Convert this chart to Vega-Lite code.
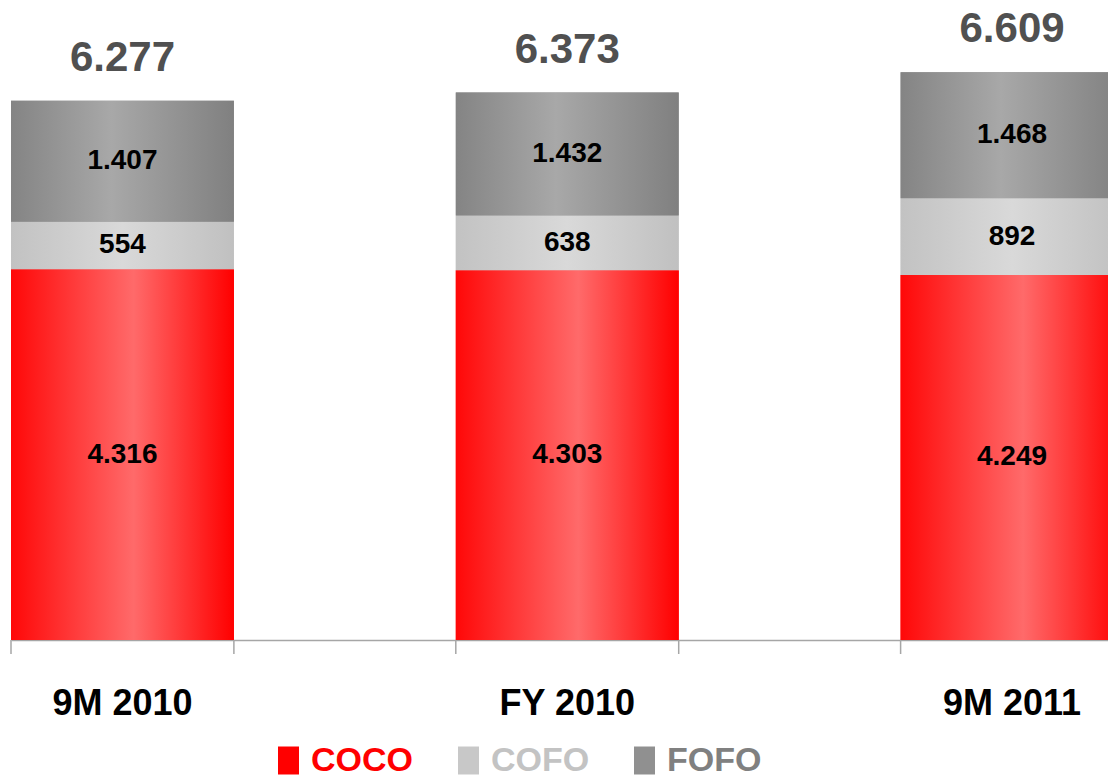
{
  "$schema": "https://vega.github.io/schema/vega-lite/v6.json",
  "width": 1108,
  "height": 640,
  "autosize": {"type": "none"},
  "padding": {"left": 0, "top": 0, "right": 0, "bottom": 143},
  "config": {
    "view": {"stroke": null},
    "font": "Liberation Sans",
    "locale": {"number": {"decimal": ",", "thousands": ".", "grouping": [3], "currency": ["", ""]}}
  },
  "data": {
    "values": [
      {"period": "9M 2010", "series": "COCO", "value": 4316},
      {"period": "9M 2010", "series": "COFO", "value": 554},
      {"period": "9M 2010", "series": "FOFO", "value": 1407},
      {"period": "FY 2010", "series": "COCO", "value": 4303},
      {"period": "FY 2010", "series": "COFO", "value": 638},
      {"period": "FY 2010", "series": "FOFO", "value": 1432},
      {"period": "9M 2011", "series": "COCO", "value": 4249},
      {"period": "9M 2011", "series": "COFO", "value": 892},
      {"period": "9M 2011", "series": "FOFO", "value": 1468}
    ]
  },
  "layer": [
    {
      "mark": {"type": "bar"},
      "encoding": {
        "x": {
          "field": "period", "type": "nominal", "sort": null,
          "scale": {"range": [11, 1123.5], "paddingInner": 0.4989, "paddingOuter": 0},
          "axis": {
            "title": null, "ticks": false, "tickSize": 0, "labelAngle": 0,
            "labelFont": "Liberation Sans",
            "labelFontSize": 36, "labelFontWeight": "bold", "labelColor": "#000000",
            "labelBaseline": "top", "labelPadding": 46,
            "domainColor": "#a6a6a6", "domainWidth": 1.5
          }
        },
        "y": {
          "field": "value", "type": "quantitative", "stack": "zero",
          "scale": {"domain": [0, 7450]}, "axis": null
        },
        "order": {"field": "series", "type": "ordinal", "sort": "ascending"},
        "color": {
          "field": "series", "type": "nominal",
          "scale": {"domain": ["COCO", "COFO", "FOFO"], "range": ["#ff0000", "#c8c8c8", "#909090"]},
          "legend": {
            "title": null, "orient": "none", "direction": "horizontal",
            "legendX": 271.5, "legendY": 743.5, "padding": 0,
            "symbolType": "M-0.75,-1H0.75V1H-0.75Z", "symbolSize": 784, "symbolStrokeWidth": 0,
            "labelFont": "Liberation Sans",
            "labelFontSize": 34, "labelFontWeight": "bold", "labelOffset": 5.5,
            "columnPadding": 38, "labelLimit": 300,
            "encode": {
              "labels": {"update": {"fill": {"signal": "datum.value === 'COCO' ? '#ff0000' : datum.value === 'COFO' ? '#c3c3c3' : '#808080'"}}},
              "symbols": {"update": {"fill": {"signal": "datum.value === 'COCO' ? {gradient: 'linear', x1: 0, y1: 0, x2: 1, y2: 0, stops: [{offset: 0, color: '#ff0808'}, {offset: 0.55, color: '#ff6a6a'}, {offset: 1, color: '#ff0000'}]} : datum.value === 'COFO' ? {gradient: 'linear', x1: 0, y1: 0, x2: 1, y2: 0, stops: [{offset: 0, color: '#c2c2c2'}, {offset: 0.5, color: '#d9d9d9'}, {offset: 1, color: '#c0c0c0'}]} : {gradient: 'linear', x1: 0, y1: 0, x2: 1, y2: 0, stops: [{offset: 0, color: '#848484'}, {offset: 0.45, color: '#a8a8a8'}, {offset: 1, color: '#808080'}]}"}}}
            }
          }
        }
      }
    },
    {
      "mark": {"type": "bar"},
      "encoding": {
        "x": {"field": "period", "type": "nominal", "sort": null},
        "y": {"field": "value", "type": "quantitative", "stack": "zero", "scale": {"domain": [0, 7450]}, "axis": null},
        "detail": {"field": "series", "type": "nominal"},
        "order": {"field": "series", "type": "ordinal", "sort": "ascending"},
        "fill": {
          "condition": [
            {"test": "datum.series === 'COCO'", "value": {"gradient": "linear", "x1": 0, "y1": 0, "x2": 1, "y2": 0, "stops": [
              {"offset": 0, "color": "#ff0808"}, {"offset": 0.55, "color": "#ff6a6a"}, {"offset": 1, "color": "#ff0000"}]}},
            {"test": "datum.series === 'COFO'", "value": {"gradient": "linear", "x1": 0, "y1": 0, "x2": 1, "y2": 0, "stops": [
              {"offset": 0, "color": "#c2c2c2"}, {"offset": 0.5, "color": "#d9d9d9"}, {"offset": 1, "color": "#c0c0c0"}]}}
          ],
          "value": {"gradient": "linear", "x1": 0, "y1": 0, "x2": 1, "y2": 0, "stops": [
            {"offset": 0, "color": "#848484"}, {"offset": 0.45, "color": "#a8a8a8"}, {"offset": 1, "color": "#808080"}]}
        }
      }
    },
    {
      "transform": [
        {"stack": "value", "groupby": ["period"], "sort": [{"field": "series", "order": "ascending"}], "as": ["v0", "v1"]},
        {"calculate": "(datum.v0 + datum.v1) / 2", "as": "mid"}
      ],
      "mark": {
        "type": "text", "baseline": "middle", "align": "center",
        "font": "Liberation Sans",
        "fontSize": 28, "fontWeight": "bold", "color": "#000000"
      },
      "encoding": {
        "x": {"field": "period", "type": "nominal", "sort": null},
        "y": {"field": "mid", "type": "quantitative", "scale": {"domain": [0, 7450]}, "axis": null},
        "text": {"field": "value", "type": "quantitative", "format": ",d"}
      }
    },
    {
      "transform": [
        {"aggregate": [{"op": "sum", "field": "value", "as": "total"}], "groupby": ["period"]}
      ],
      "mark": {
        "type": "text", "baseline": "alphabetic", "align": "center", "dy": -30,
        "font": "Liberation Sans", "fontSize": 42, "fontWeight": "bold", "color": "#505050"
      },
      "encoding": {
        "x": {"field": "period", "type": "nominal", "sort": null},
        "y": {"field": "total", "type": "quantitative", "scale": {"domain": [0, 7450]}, "axis": null},
        "text": {"field": "total", "type": "quantitative", "format": ",d"}
      }
    },
    {
      "transform": [{"filter": "datum.series === 'COCO'"}],
      "mark": {"type": "rule", "color": "#a6a6a6", "strokeWidth": 1.5},
      "encoding": {
        "x": {"field": "period", "type": "nominal", "sort": null, "bandPosition": 0},
        "y": {"datum": 0, "type": "quantitative", "scale": {"domain": [0, 7450]}, "axis": null},
        "y2": {"datum": -163}
      }
    },
    {
      "transform": [{"filter": "datum.series === 'COCO'"}],
      "mark": {"type": "rule", "color": "#a6a6a6", "strokeWidth": 1.5},
      "encoding": {
        "x": {"field": "period", "type": "nominal", "sort": null, "bandPosition": 1},
        "y": {"datum": 0, "type": "quantitative", "scale": {"domain": [0, 7450]}, "axis": null},
        "y2": {"datum": -163}
      }
    }
  ]
}
